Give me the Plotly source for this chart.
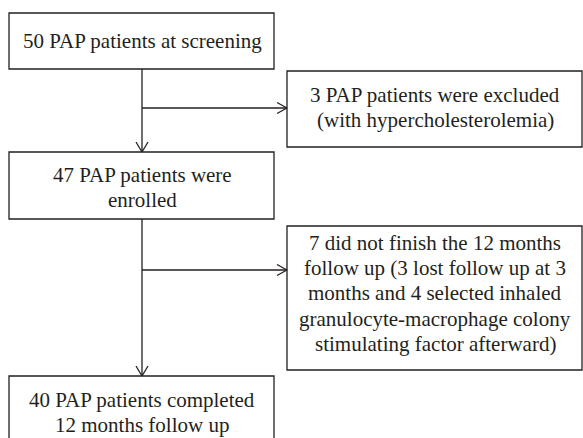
import plotly.graph_objects as go

# Flowchart content
main_labels = [
    "50 PAP patients at screening",
    "47 PAP patients were<br>enrolled",
    "40 PAP patients completed<br>12 months follow up",
]
side_labels = [
    "3 PAP patients were excluded<br>(with hypercholesterolemia)",
    "7 did not finish the 12 months<br>follow up (3 lost follow up at 3<br>months and 4 selected inhaled<br>granulocyte-macrophage colony<br>stimulating factor afterward)",
]

# Layout geometry (pixels, y downward)
W, H = 583, 438
main_boxes = [(9, 13, 274, 69), (9, 152, 274, 219), (9, 376, 274, 460)]
main_first_line_y = [41, 175, 400]
side_boxes = [(287, 71, 582, 147), (287, 226, 582, 370)]
side_first_line_y = [95, 243]
line_gap = 25.2
branch_y = [108, 270]
spine_x = 142

LINE = "#231f20"
LW = 1.3
FONT = dict(family="Liberation Serif", size=21, color="#231f20")

fig = go.Figure()
shapes = []
annotations = []

def rect(b):
    shapes.append(dict(type="rect", xref="x", yref="y", x0=b[0], y0=b[1], x1=b[2], y1=b[3],
                       line=dict(color=LINE, width=LW), fillcolor="rgba(0,0,0,0)"))

def seg(x0, y0, x1, y1):
    shapes.append(dict(type="line", xref="x", yref="y", x0=x0, y0=y0, x1=x1, y1=y1,
                       line=dict(color=LINE, width=LW)))

for b in main_boxes + side_boxes:
    rect(b)

for i in range(2):
    top = main_boxes[i][3]
    tip = main_boxes[i + 1][1]
    seg(spine_x, top, spine_x, tip)
    seg(spine_x - 6, tip - 10, spine_x, tip)
    seg(spine_x + 6, tip - 10, spine_x, tip)
    by = branch_y[i]
    tipx = side_boxes[i][0]
    seg(spine_x, by, tipx, by)
    seg(tipx - 10, by - 5.5, tipx, by)
    seg(tipx - 10, by + 5.5, tipx, by)

def add_text(lbl, b, y0):
    for k, line in enumerate(lbl.split("<br>")):
        annotations.append(dict(text=line, x=(b[0] + b[2]) / 2 + 0.5, y=y0 + k * line_gap,
                                xref="x", yref="y", showarrow=False, font=FONT,
                                xanchor="center", yanchor="middle"))

for lbl, b, y0 in zip(main_labels, main_boxes, main_first_line_y):
    add_text(lbl, b, y0)
for lbl, b, y0 in zip(side_labels, side_boxes, side_first_line_y):
    add_text(lbl, b, y0)

fig.update_layout(
    width=W, height=H,
    margin=dict(l=0, r=0, t=0, b=0),
    paper_bgcolor="white", plot_bgcolor="white",
    xaxis=dict(range=[0, W], visible=False, fixedrange=True),
    yaxis=dict(range=[H, 0], visible=False, fixedrange=True),
    shapes=shapes, annotations=annotations, showlegend=False,
)

fig.write_html("out.html", config={"displayModeBar": False},
               post_script="document.body.style.margin='0';document.body.style.padding='0';document.body.style.overflow='hidden';")
